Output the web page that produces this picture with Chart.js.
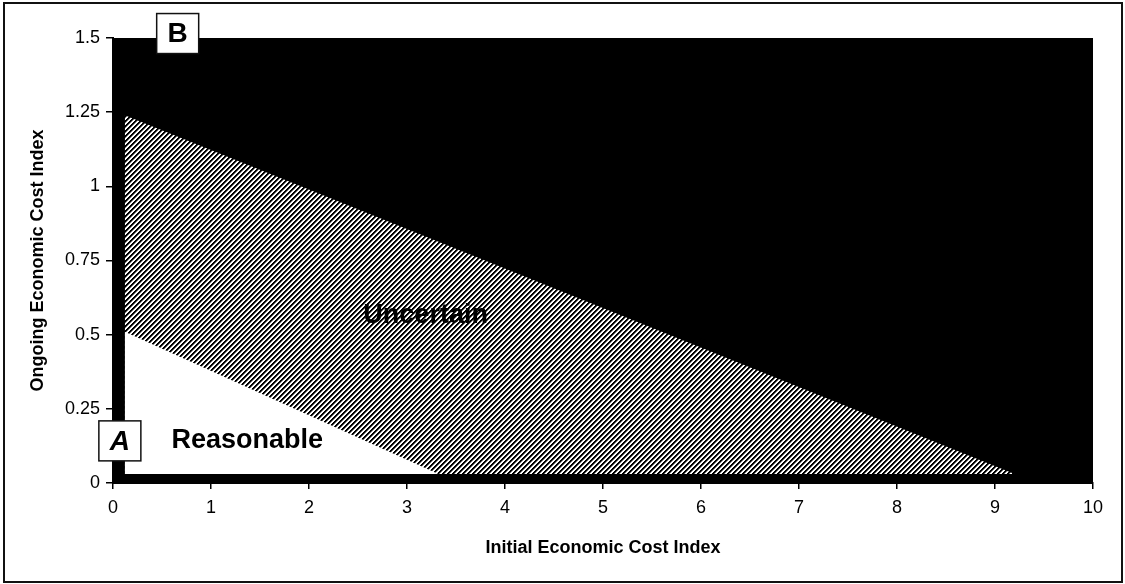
<!DOCTYPE html>
<html>
<head>
<meta charset="utf-8">
<script src="https://cdn.jsdelivr.net/npm/chart.js@4"></script>
<style>
    html, body { margin: 0; padding: 0; background: #fff; }
    #wrap { position: relative; width: 1125px; height: 584px; }
    #frame {
        position: absolute; left: 3px; top: 2px; width: 1120px; height: 581px;
        box-sizing: border-box; border: 2px solid #111; pointer-events: none;
    }
</style>
</head>
<body>
<div id="wrap">
    <canvas id="costChart" width="1125" height="584"></canvas>
    <div id="frame"></div>
</div>
<script>
// Valori
const xTickValues = [0, 1, 2, 3, 4, 5, 6, 7, 8, 9, 10];
const yTickLabels = ["0", "0.25", "0.5", "0.75", "1", "1.25", "1.5"];

// Zona nera (tutta l'area) – bordo superiore
const blockX = [0, 10];
const blockY = [1.5, 1.5];

// Zona "Uncertain" (tratteggiata)
const uncertainX = [0.12, 9.2];
const uncertainY = [1.24, 0.03];
const uncertainBase = 0.03;

// Zona "Reasonable" (bianca)
const reasonableX = [0.12, 3.32];
const reasonableY = [0.51, 0.03];
const reasonableBase = 0.03;

// Etichette e riquadri
const areaLabels = [
    { text: "Uncertain", x: 3.19, y: 0.563 },
    { text: "Reasonable", x: 1.37, y: 0.142 }
];
const cornerBoxes = [
    { text: "A", x: 0.07, y: 0.142, italic: true },
    { text: "B", x: 0.66, y: 1.515, italic: false }
];

const toPoints = (xs, ys) => xs.map((x, i) => ({ x: x, y: ys[i] }));

// Pattern a righe diagonali per la zona incerta
function makeHatch() {
    const size = 10;
    const c = document.createElement("canvas");
    c.width = size; c.height = size;
    const g = c.getContext("2d");
    const img = g.createImageData(size, size);
    for (let y = 0; y < size; y++) {
        for (let x = 0; x < size; x++) {
            const k = (x + y) % 5;
            const v = k < 2 ? 0 : (k === 2 ? 110 : 255);
            const p = (y * size + x) * 4;
            img.data[p] = v; img.data[p + 1] = v; img.data[p + 2] = v; img.data[p + 3] = 255;
        }
    }
    g.putImageData(img, 0, 0);
    return g.createPattern(c, "repeat");
}

// Plugin per i testi dentro il grafico
const regionText = {
    id: "regionText",
    afterDatasetsDraw(chart) {
        const { ctx, scales } = chart;
        ctx.save();
        ctx.textAlign = "center";
        ctx.textBaseline = "middle";
        ctx.fillStyle = "#000";
        ctx.font = "bold 27px 'Liberation Sans', Arial, sans-serif";
        areaLabels.forEach(l => {
            ctx.fillText(l.text, scales.x.getPixelForValue(l.x), scales.y.getPixelForValue(l.y));
        });
        ctx.restore();
    },
    afterDraw(chart) {
        const { ctx, scales } = chart;
        ctx.save();
        cornerBoxes.forEach(b => {
            const cx = scales.x.getPixelForValue(b.x);
            const cy = scales.y.getPixelForValue(b.y);
            const w = 42, h = 40;
            ctx.fillStyle = "#fff";
            ctx.strokeStyle = "#111";
            ctx.lineWidth = 1.5;
            ctx.fillRect(cx - w / 2, cy - h / 2, w, h);
            ctx.strokeRect(cx - w / 2, cy - h / 2, w, h);
            ctx.fillStyle = "#000";
            ctx.textAlign = "center";
            ctx.textBaseline = "middle";
            ctx.font = (b.italic ? "italic " : "") + "bold 28px 'Liberation Sans', Arial, sans-serif";
            ctx.fillText(b.text, cx, cy + 1);
        });
        ctx.restore();
    }
};

const ctx = document.getElementById("costChart").getContext("2d");
const fontFamily = "'Liberation Sans', Arial, sans-serif";

new Chart(ctx, {
    type: "scatter",
    data: {
        datasets: [
            {
                label: "Reasonable",
                data: toPoints(reasonableX, reasonableY),
                showLine: true,
                fill: { value: reasonableBase },
                backgroundColor: "#fff",
                borderWidth: 0,
                pointRadius: 0,
                order: 1
            },
            {
                label: "Uncertain",
                data: toPoints(uncertainX, uncertainY),
                showLine: true,
                fill: { value: uncertainBase },
                backgroundColor: makeHatch(),
                borderWidth: 0,
                pointRadius: 0,
                order: 2
            },
            {
                label: "Unreasonable",
                data: toPoints(blockX, blockY),
                showLine: true,
                fill: "origin",
                backgroundColor: "#000",
                borderWidth: 0,
                pointRadius: 0,
                order: 3
            }
        ]
    },
    options: {
        responsive: false,
        animation: false,
        layout: { padding: { left: 0, top: 38, right: 32, bottom: 0 } },
        plugins: {
            legend: { display: false },
            tooltip: { enabled: false }
        },
        scales: {
            x: {
                type: "linear",
                min: 0, max: 10,
                afterFit: s => { s.height = 101; },
                afterBuildTicks: s => { s.ticks = xTickValues.map(v => ({ value: v })); },
                grid: { drawOnChartArea: false, drawTicks: true, tickLength: 6, color: "#000", lineWidth: 1.5 },
                border: { display: true, color: "#000", width: 2 },
                ticks: { color: "#000", padding: 8, font: { family: fontFamily, size: 18 } },
                title: {
                    display: true,
                    text: "Initial Economic Cost Index",
                    color: "#000",
                    font: { family: fontFamily, size: 18, weight: "bold" },
                    padding: { top: 0, bottom: 25 }
                }
            },
            y: {
                type: "linear",
                min: 0, max: 1.5,
                afterFit: s => { s.width = 113; },
                ticks: {
                    stepSize: 0.25,
                    color: "#000",
                    padding: 6,
                    font: { family: fontFamily, size: 18 },
                    callback: (value, index) => yTickLabels[index]
                },
                grid: { drawOnChartArea: false, drawTicks: true, tickLength: 7, color: "#000", lineWidth: 1.5 },
                border: { display: true, color: "#000", width: 2 },
                title: {
                    display: true,
                    text: "Ongoing Economic Cost Index",
                    color: "#000",
                    font: { family: fontFamily, size: 18, weight: "bold" },
                    padding: { top: 27, bottom: 0 }
                }
            }
        }
    },
    plugins: [regionText]
});
</script>
</body>
</html>
